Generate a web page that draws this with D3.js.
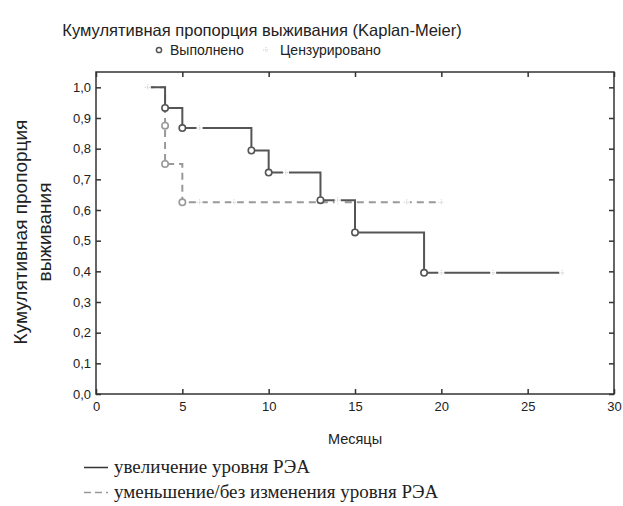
<!DOCTYPE html>
<html>
<head>
<meta charset="utf-8">
<script src="https://cdn.jsdelivr.net/npm/d3@7"></script>
<style>
  body { margin: 0; background: #fff; }
  svg text { fill: #222; }
</style>
</head>
<body>
<svg width="623" height="506"></svg>
<script>
// survival steps: [month, proportion]
const upSteps = [[3, 1.0], [4, 0.933], [5, 0.867], [9, 0.794], [10, 0.722], [13, 0.632], [15, 0.527], [19, 0.395]];
const upEnd = 27;
const upCensored = [3, 6, 11, 14, 20, 23, 27];

const downSteps = [[3, 1.0], [4, 0.875], [4, 0.75], [5, 0.625]];
const downEnd = 20;
const downCensored = [3, 6, 8, 14, 18, 20];

const xTicks = [0, 5, 10, 15, 20, 25, 30];
const yTicks = [0, 0.1, 0.2, 0.3, 0.4, 0.5, 0.6, 0.7, 0.8, 0.9, 1.0];

const sans = 'Liberation Sans, Arial, sans-serif';
const serif = 'Liberation Serif, DejaVu Serif, serif';

const svg = d3.select('svg');

const margin = { top: 72, right: 9, bottom: 112, left: 96 },
	width = 623 - margin.left - margin.right,
	height = 506 - margin.top - margin.bottom;

const xScale = d3.scaleLinear().domain([0, 30]).range([0, width]);
const yScale = d3.scaleLinear().domain([0, 1.05]).range([height, 0]);

const g = svg.append('g')
	.attr('transform', `translate(${margin.left}, ${margin.top})`);

const fmt = d => d3.format('.1f')(d).replace('.', ',');

// axes with ticks pointing inward
g.append('g')
	.attr('transform', `translate(0, ${height})`)
	.call(d3.axisBottom(xScale).tickValues(xTicks).tickSize(-5).tickPadding(8));
g.append('g')
	.call(d3.axisLeft(yScale).tickValues(yTicks).tickSize(-5).tickPadding(5).tickFormat(fmt));
g.append('g')
	.attr('transform', `translate(${width}, 0)`)
	.call(d3.axisRight(yScale).tickValues(yTicks).tickSize(-5).tickFormat(''));
g.append('g')
	.call(d3.axisTop(xScale).tickValues(xTicks).tickSize(-5).tickFormat(''));

g.selectAll('.domain').remove();
g.selectAll('.tick line').attr('stroke', '#333').attr('stroke-width', 1.5);
g.selectAll('.tick text')
	.style('font-size', '13px')
	.style('font-family', sans)
	.attr('fill', '#333');

g.append('rect')
	.attr('width', width)
	.attr('height', height)
	.attr('fill', 'none')
	.attr('stroke', '#333')
	.attr('stroke-width', 1.5);

// step path: horizontal then vertical
const stepPath = (steps, end) => {
	let p = 'M' + xScale(steps[0][0]) + ',' + yScale(steps[0][1]);
	for (let i = 1; i < steps.length; i++) {
		p += 'H' + xScale(steps[i][0]) + 'V' + yScale(steps[i][1]);
	}
	return p + 'H' + xScale(end);
};

// value at a given month for the censored marks
const valueAt = (steps, t) => {
	let v = steps[0][1];
	steps.forEach(s => { if (s[0] <= t) v = s[1]; });
	return v;
};

const drawSeries = (steps, end, censored, color, dash) => {
	g.append('path')
		.attr('d', stepPath(steps, end))
		.attr('fill', 'none')
		.attr('stroke', color)
		.attr('stroke-width', 2)
		.attr('stroke-dasharray', dash);

	const cens = g.append('g').selectAll('g')
		.data(censored)
		.enter().append('g')
		.attr('transform', d => `translate(${xScale(d)}, ${yScale(valueAt(steps, d))})`);
	cens.append('rect')
		.attr('x', -3).attr('y', -3).attr('width', 6).attr('height', 6)
		.attr('fill', '#fff');
	cens.append('path')
		.attr('d', 'M-3,0H3M0,-3V3')
		.attr('stroke', '#ccc')
		.attr('stroke-width', 1)
		.attr('stroke-dasharray', '1,1');

	g.append('g').selectAll('circle')
		.data(steps.slice(1))
		.enter().append('circle')
		.attr('cx', d => xScale(d[0]))
		.attr('cy', d => yScale(d[1]))
		.attr('r', 3.2)
		.attr('fill', '#fff')
		.attr('stroke', color)
		.attr('stroke-width', 1.6);
};

drawSeries(downSteps, downEnd, downCensored, '#999', '7,5');
drawSeries(upSteps, upEnd, upCensored, '#555', null);

// titles
svg.append('text')
	.attr('x', 262).attr('y', 36)
	.attr('text-anchor', 'middle')
	.style('font-family', sans)
	.style('font-size', '16.5px')
	.text('Кумулятивная пропорция выживания (Kaplan-Meier)');

const topLegend = svg.append('g').attr('transform', 'translate(0, 55)');
topLegend.append('circle')
	.attr('cx', 159).attr('cy', -5).attr('r', 2.6)
	.attr('fill', '#fff').attr('stroke', '#555').attr('stroke-width', 1.5);
topLegend.append('text').attr('x', 170)
	.style('font-size', '14px').style('font-family', sans).text('Выполнено');
topLegend.append('path')
	.attr('d', 'M263,-5H269M266,-8V-2')
	.attr('stroke', '#ccc').attr('stroke-dasharray', '1,1');
topLegend.append('text').attr('x', 280)
	.style('font-size', '14px').style('font-family', sans).text('Цензурировано');

svg.append('text')
	.attr('x', margin.left + width / 2).attr('y', 444)
	.attr('text-anchor', 'middle')
	.style('font-family', sans)
	.style('font-size', '14.5px')
	.text('Месяцы');

const yTitle = svg.append('text')
	.attr('transform', 'translate(0, 232) rotate(-90)')
	.attr('text-anchor', 'middle')
	.style('font-family', sans)
	.style('font-size', '19px');
yTitle.append('tspan').attr('x', 0).attr('y', 27).text('Кумулятивная пропорция');
yTitle.append('tspan').attr('x', 0).attr('y', 51).text('выживания');

// bottom legend
const legendItems = [
	{ label: 'увеличение уровня РЭА', color: '#333', dash: null },
	{ label: 'уменьшение/без изменения уровня РЭА', color: '#999', dash: '7,4' }
];
const legend = svg.append('g').selectAll('g')
	.data(legendItems)
	.enter().append('g')
	.attr('transform', (d, i) => `translate(0, ${473 + i * 25})`);
legend.append('line')
	.attr('x1', 84).attr('x2', 108).attr('y1', -5.5).attr('y2', -5.5)
	.attr('stroke', d => d.color)
	.attr('stroke-width', 1.5)
	.attr('stroke-dasharray', d => d.dash);
legend.append('text')
	.attr('x', 114)
	.style('font-family', serif)
	.style('font-size', '19px')
	.text(d => d.label);
</script>
</body>
</html>
